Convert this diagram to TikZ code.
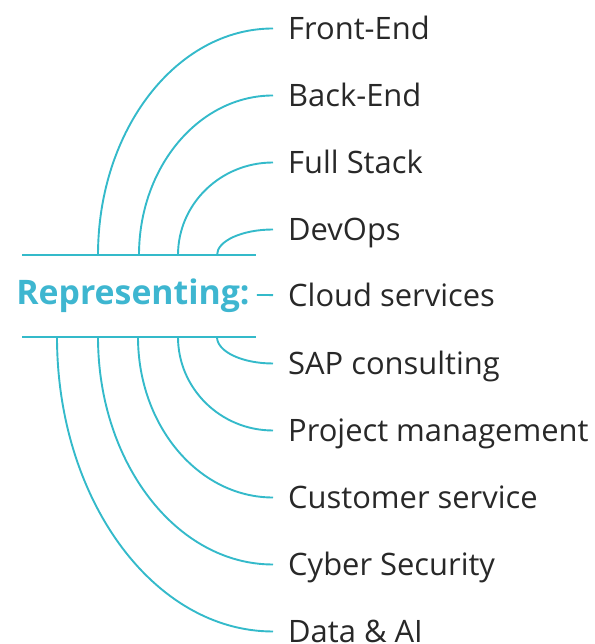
\documentclass[tikz,border=0pt]{standalone}
\usepackage{fontspec}
\setmainfont{Open Sans}
\usetikzlibrary{positioning,calc}
\definecolor{C}{RGB}{52,186,202}
\definecolor{T}{RGB}{62,182,208}
\definecolor{K}{RGB}{40,40,40}
\tikzset{
  item/.style={anchor=west, inner xsep=15pt, inner ysep=0pt, text height=21.5pt, text depth=0pt, font=\fontsize{30.9}{36}\selectfont, text=K},
  branch/.style={C, line width=1.9pt},
  quarter/.style={to path={.. controls ($(\tikztostart)!0.552!(\tikztostart|-\tikztotarget)$) and ($(\tikztotarget)!0.552!(\tikztostart|-\tikztotarget)$) .. (\tikztotarget)}}
}

\begin{document}
\begin{tikzpicture}[x=1pt,y=1pt]
   \useasboundingbox (0,0) rectangle (594,644);
   % hub and its two bars
   \node[font=\fontsize{33.8}{40}\selectfont\bfseries, text=T, inner xsep=7pt, inner ysep=0pt, text height=22pt, text depth=0pt] (hub) at (133,350) {Representing:};
   \coordinate (topL) at (22,389);
   \coordinate (topR) at (256,389);
   \coordinate (botL) at (22,307);
   \coordinate (botR) at (256,307);
   \draw[branch] (topL) -- (topR);
   \draw[branch] (botL) -- (botR);
   % labels
   \node[item] (front) at (273,615.5) {Front-End};
   \node[item] (back)  at (273,548.5) {Back-End};
   \node[item] (full)  at (273,481.5) {Full Stack};
   \node[item] (devops) at (273,414.5) {DevOps};
   \node[item] (cloud) at (273,348) {Cloud services};
   \node[item] (sap)   at (273,280.5) {SAP consulting};
   \node[item] (pm)    at (273,213.5) {Project management};
   \node[item] (cs)    at (273,146.5) {Customer service};
   \node[item] (cyber) at (273,79.5) {Cyber Security};
   \node[item] (data)  at (273,12.5) {Data \& AI};
   % roots on the bars
   \coordinate (t1) at (98,389);
   \coordinate (t2) at (139,389);
   \coordinate (t3) at (178,389);
   \coordinate (t4) at (217,389);
   \coordinate (b1) at (217,307);
   \coordinate (b2) at (178,307);
   \coordinate (b3) at (138,307);
   \coordinate (b4) at (98,307);
   \coordinate (b5) at (57,307);
   % branches
   \draw[branch] (t1) to[quarter] (front.west);
   \draw[branch] (t2) to[quarter] (back.west);
   \draw[branch] (t3) to[quarter] (full.west);
   \draw[branch] (t4) to[quarter] (devops.west);
   \draw[branch] (hub) -- (cloud);
   \draw[branch] (b1) to[quarter] (sap.west);
   \draw[branch] (b2) to[quarter] (pm.west);
   \draw[branch] (b3) to[quarter] (cs.west);
   \draw[branch] (b4) to[quarter] (cyber.west);
   \draw[branch] (b5) to[quarter] (data.west);
\end{tikzpicture}
\end{document}
